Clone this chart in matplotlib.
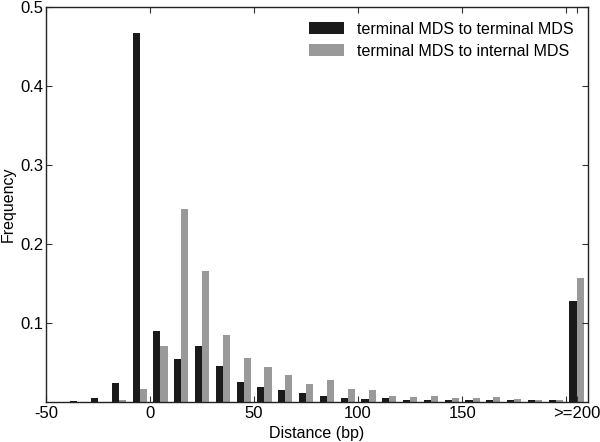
import matplotlib
matplotlib.use("Agg")
import matplotlib.pyplot as plt
import numpy as np

plt.rcParams['font.family'] = ['Liberation Sans', 'DejaVu Sans']

# bin centres (10 bp bins, last one is the >=200 bin)
bin_centers = [-45, -35, -25, -15, -5, 5, 15, 25, 35, 45, 55, 65, 75, 85, 95,
               105, 115, 125, 135, 145, 155, 165, 175, 185, 195, 205]
term_term = [0.0, 0.001, 0.005, 0.024, 0.467, 0.090, 0.054, 0.070, 0.045, 0.025,
             0.019, 0.014, 0.011, 0.0065, 0.0047, 0.0035, 0.004, 0.0025, 0.0025,
             0.002, 0.002, 0.002, 0.002, 0.0017, 0.0017, 0.128]
term_int = [0.0, 0.0, 0.0, 0.0013, 0.016, 0.070, 0.244, 0.165, 0.084, 0.055,
            0.044, 0.033, 0.022, 0.027, 0.016, 0.015, 0.007, 0.0055, 0.0065,
            0.004, 0.004, 0.0055, 0.003, 0.0017, 0.0017, 0.157]
labels = ["terminal MDS to terminal MDS", "terminal MDS to internal MDS"]
xtick_pos = [-50, 0, 50, 100, 150, 200, 205]
xtick_labels = ["-50", "0", "50", "100", "150", "", ">=200"]

fig = plt.figure(figsize=(6, 4.42), dpi=100)
ax = fig.add_axes([0.0767, 0.0916, 0.9033, 0.892])

x = np.array(bin_centers)
w = 3.4
ax.bar(x - w / 2, term_term, width=w, color="#1a1a1a", label=labels[0])
ax.bar(x + w / 2, term_int, width=w, color="#999999", label=labels[1])

ax.set_xlim(-50, 210.5)
ax.set_ylim(0, 0.5)
ax.set_xticks(xtick_pos)
ax.set_xticklabels(xtick_labels)
ax.set_yticks([0.1, 0.2, 0.3, 0.4, 0.5])
ax.set_yticklabels(["0.1", "0.2", "0.3", "0.4", "0.5"])
ax.tick_params(direction="in", top=True, right=True, length=4, labelsize=12,
               width=0.8, color="#333333")
ax.tick_params(axis="y", pad=2)
for s in ax.spines.values():
    s.set_linewidth(1.0)
    s.set_color("#222222")

ax.set_xlabel("Distance (bp)", fontsize=11.5)
ax.set_ylabel("Frequency", fontsize=11.5)
ax.yaxis.set_label_coords(-0.055, 0.5)
ax.xaxis.set_label_coords(0.5, -0.062)

ax.legend(loc="upper right", frameon=False, fontsize=11.5, handlelength=2.2,
          handleheight=0.8, borderaxespad=0.5, labelspacing=0.45)

fig.savefig("out.png", dpi=100)
